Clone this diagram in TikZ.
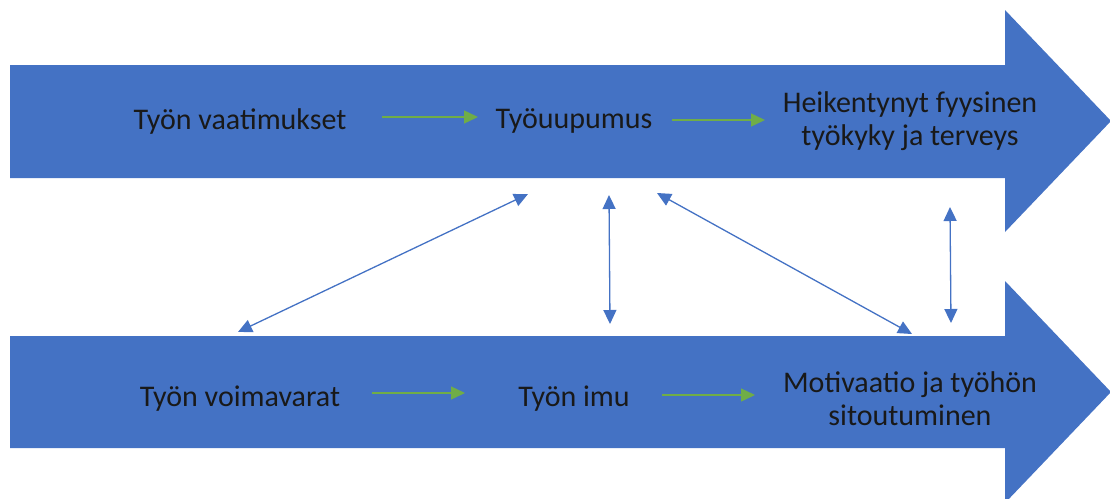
\documentclass[tikz,border=0pt]{standalone}
\usepackage{fontspec}
\setmainfont{Carlito}
\usetikzlibrary{arrows.meta}
\definecolor{bandblue}{HTML}{4472C4}
\definecolor{flowgreen}{HTML}{70AD47}
\tikzset{
  band/.style={fill=bandblue, draw=none},
  lbl/.style={font=\fontsize{30}{33}\selectfont, text=black!90, align=center, inner sep=0pt},
  flow/.style={draw=flowgreen, line width=1.4pt, -{Triangle[length=14pt,width=13pt]}},
  link/.style={draw=bandblue, line width=1.3pt, {Triangle[length=14pt,width=13pt]}-{Triangle[length=14pt,width=13pt]}}
}
\begin{document}
\begin{tikzpicture}[x=1pt,y=-1pt]
\useasboundingbox (0,0) rectangle (1110,498);
\clip (0,0) rectangle (1110,498);
% bands
\fill[band] (10,65) -- (1005,65) -- (1005,10) -- (1111,121) -- (1005,232) -- (1005,178) -- (10,178) -- cycle;
\fill[band] (10,336) -- (1005,336) -- (1005,281) -- (1111,392) -- (1005,503) -- (1005,448) -- (10,448) -- cycle;
% labels
\node[lbl] (vaat) at (240,121) {Työn vaatimukset};
\node[lbl] (uup) at (574,121) {Työuupumus};
\node[lbl] (heik) at (910,121) {Heikentynyt fyysinen\\työkyky ja terveys};
\node[lbl] (voim) at (240,399) {Työn voimavarat};
\node[lbl] (imu) at (574,399) {Työn imu};
\node[lbl] (moti) at (910,399) {Motivaatio ja työhön\\sitoutuminen};
% green flow arrow ends
\coordinate (g1a) at (382,117); \coordinate (g1b) at (478,117);
\coordinate (g2a) at (672,120); \coordinate (g2b) at (765,120);
\coordinate (g3a) at (372,393); \coordinate (g3b) at (465,393);
\coordinate (g4a) at (662,395); \coordinate (g4b) at (755,395);
\draw[flow] (g1a) -- (g1b);
\draw[flow] (g2a) -- (g2b);
\draw[flow] (g3a) -- (g3b);
\draw[flow] (g4a) -- (g4b);
% blue link ends
\coordinate (l1a) at (528,194); \coordinate (l1b) at (238,332);
\coordinate (l2a) at (609,195); \coordinate (l2b) at (610,324);
\coordinate (l3a) at (657,193); \coordinate (l3b) at (912,334);
\coordinate (l4a) at (950,207); \coordinate (l4b) at (951,323);
\draw[link] (l1a) -- (l1b);
\draw[link] (l2a) -- (l2b);
\draw[link] (l3a) -- (l3b);
\draw[link] (l4a) -- (l4b);
\end{tikzpicture}
\end{document}
